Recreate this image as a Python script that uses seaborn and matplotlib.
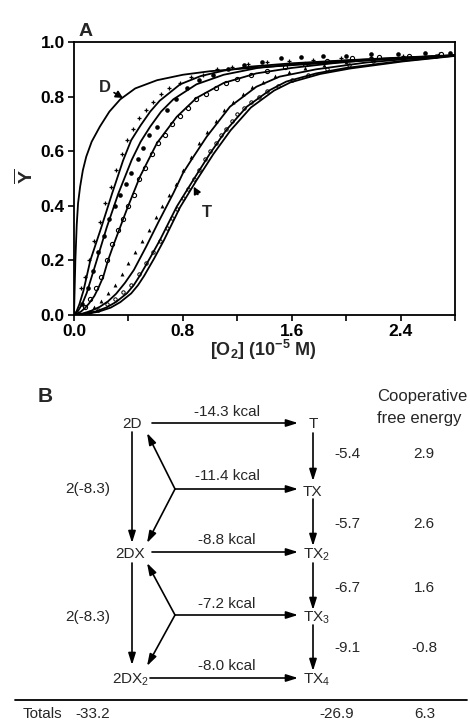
import matplotlib
matplotlib.use("Agg")
import matplotlib.pyplot as plt
import seaborn as sns

# ---------------- Panel A data ----------------
d_x = [0.0, 0.005, 0.01, 0.02, 0.03, 0.045, 0.065, 0.09, 0.13, 0.19, 0.26, 0.34, 0.45, 0.61, 0.80, 1.00, 1.30, 1.60, 2.00, 2.40, 2.80]
d_y = [0.0, 0.10, 0.20, 0.33, 0.41, 0.47, 0.53, 0.58, 0.635, 0.69, 0.745, 0.79, 0.83, 0.86, 0.88, 0.893, 0.905, 0.915, 0.928, 0.94, 0.95]

c1_x = [0.0, 0.02, 0.04, 0.07, 0.095, 0.12, 0.16, 0.20, 0.28, 0.36, 0.42, 0.49, 0.56, 0.63, 0.78, 0.93, 1.10, 1.30, 1.60, 2.00, 2.40, 2.80]
c1_y = [0.0, 0.015, 0.04, 0.09, 0.145, 0.20, 0.26, 0.32, 0.445, 0.565, 0.64, 0.695, 0.745, 0.785, 0.845, 0.875, 0.895, 0.91, 0.922, 0.933, 0.943, 0.952]

c2_x = [0.0, 0.03, 0.06, 0.093, 0.13, 0.167, 0.24, 0.326, 0.424, 0.49, 0.56, 0.64, 0.73, 0.90, 1.10, 1.35, 1.65, 2.00, 2.40, 2.80]
c2_y = [0.0, 0.015, 0.04, 0.08, 0.14, 0.20, 0.32, 0.445, 0.568, 0.635, 0.69, 0.745, 0.79, 0.845, 0.88, 0.905, 0.92, 0.932, 0.942, 0.951]

c3_x = [0.0, 0.05, 0.08, 0.11, 0.15, 0.18, 0.215, 0.25, 0.289, 0.387, 0.485, 0.61, 0.755, 0.90, 1.10, 1.34, 1.60, 1.90, 2.20, 2.50, 2.80]
c3_y = [0.0, 0.012, 0.025, 0.042, 0.07, 0.10, 0.14, 0.20, 0.255, 0.385, 0.507, 0.63, 0.726, 0.795, 0.85, 0.885, 0.905, 0.922, 0.935, 0.944, 0.951]

c4_x = [0.0, 0.06, 0.12, 0.19, 0.25, 0.31, 0.375, 0.44, 0.53, 0.62, 0.73, 0.80, 0.865, 0.975, 1.146, 1.34, 1.51, 1.78, 2.15, 2.50, 2.80]
c4_y = [0.0, 0.005, 0.014, 0.03, 0.05, 0.078, 0.118, 0.165, 0.25, 0.34, 0.446, 0.519, 0.57, 0.653, 0.763, 0.836, 0.873, 0.90, 0.925, 0.94, 0.951]

t_x = [0.0, 0.08, 0.16, 0.24, 0.31, 0.39, 0.44, 0.485, 0.56, 0.632, 0.755, 0.877, 1.00, 1.12, 1.27, 1.44, 1.56, 1.78, 2.00, 2.40, 2.80]
t_y = [0.0, 0.005, 0.013, 0.028, 0.048, 0.08, 0.11, 0.145, 0.21, 0.275, 0.397, 0.495, 0.592, 0.678, 0.763, 0.824, 0.855, 0.885, 0.905, 0.93, 0.95]

t2_x = [0.0, 0.10, 0.18, 0.27, 0.34, 0.42, 0.47, 0.515, 0.59, 0.66, 0.78, 0.90, 1.025, 1.15, 1.30, 1.47, 1.59, 1.81, 2.03, 2.42, 2.80]
t2_y = [0.0, 0.005, 0.012, 0.027, 0.047, 0.079, 0.109, 0.143, 0.208, 0.273, 0.395, 0.493, 0.59, 0.676, 0.76, 0.822, 0.852, 0.883, 0.903, 0.929, 0.949]

s1_x = [0.05, 0.08, 0.11, 0.15, 0.19, 0.23, 0.27, 0.31, 0.35, 0.39, 0.43, 0.48, 0.53, 0.58, 0.64, 0.70, 0.78, 0.86, 0.95, 1.05, 1.16, 1.28, 1.42, 1.58, 1.76, 1.96, 2.18, 2.42, 2.68]
s1_y = [0.10, 0.14, 0.20, 0.27, 0.34, 0.41, 0.47, 0.53, 0.59, 0.64, 0.68, 0.72, 0.75, 0.78, 0.81, 0.83, 0.85, 0.87, 0.88, 0.90, 0.91, 0.92, 0.925, 0.93, 0.935, 0.94, 0.945, 0.95, 0.955]

s2_x = [0.06, 0.10, 0.14, 0.18, 0.22, 0.26, 0.30, 0.34, 0.38, 0.42, 0.47, 0.51, 0.55, 0.61, 0.68, 0.75, 0.83, 0.92, 1.02, 1.13, 1.25, 1.38, 1.52, 1.67, 1.83, 2.00, 2.18, 2.38, 2.58, 2.76]
s2_y = [0.04, 0.10, 0.16, 0.23, 0.29, 0.35, 0.40, 0.44, 0.48, 0.52, 0.57, 0.61, 0.66, 0.69, 0.75, 0.79, 0.83, 0.86, 0.88, 0.90, 0.915, 0.925, 0.94, 0.945, 0.95, 0.95, 0.955, 0.955, 0.96, 0.96]

s3_x = [0.08, 0.12, 0.16, 0.20, 0.24, 0.28, 0.32, 0.36, 0.40, 0.44, 0.48, 0.52, 0.57, 0.62, 0.67, 0.72, 0.78, 0.84, 0.90, 0.97, 1.04, 1.12, 1.20, 1.30, 1.42, 1.55, 1.70, 1.86, 2.04, 2.24, 2.46, 2.70]
s3_y = [0.03, 0.06, 0.10, 0.14, 0.20, 0.26, 0.31, 0.35, 0.40, 0.44, 0.50, 0.54, 0.59, 0.63, 0.66, 0.70, 0.73, 0.76, 0.79, 0.81, 0.83, 0.85, 0.865, 0.88, 0.895, 0.91, 0.92, 0.93, 0.94, 0.945, 0.95, 0.955]

s4_x = [0.10, 0.15, 0.20, 0.25, 0.30, 0.35, 0.40, 0.45, 0.50, 0.55, 0.60, 0.65, 0.70, 0.75, 0.80, 0.86, 0.92, 0.98, 1.04, 1.10, 1.17, 1.24, 1.31, 1.39, 1.48, 1.58, 1.70, 1.84, 2.00, 2.20]
s4_y = [0.01, 0.03, 0.05, 0.08, 0.11, 0.15, 0.19, 0.23, 0.27, 0.31, 0.36, 0.40, 0.44, 0.48, 0.53, 0.58, 0.63, 0.67, 0.71, 0.75, 0.78, 0.81, 0.835, 0.855, 0.875, 0.89, 0.905, 0.915, 0.925, 0.935]

ts_x = [0.12, 0.18, 0.24, 0.30, 0.36, 0.42, 0.48, 0.53, 0.58, 0.63, 0.68, 0.72, 0.76, 0.80, 0.84, 0.88, 0.92, 0.96, 1.00, 1.04, 1.08, 1.12, 1.16, 1.20, 1.25, 1.30, 1.36, 1.42, 1.50, 1.60, 1.72, 1.86, 2.02, 2.20, 2.42, 2.66]
ts_y = [0.01, 0.02, 0.04, 0.06, 0.085, 0.11, 0.15, 0.19, 0.23, 0.27, 0.32, 0.355, 0.39, 0.43, 0.46, 0.50, 0.53, 0.57, 0.60, 0.63, 0.66, 0.68, 0.71, 0.735, 0.76, 0.78, 0.80, 0.82, 0.84, 0.86, 0.88, 0.90, 0.915, 0.93, 0.94, 0.95]

x_ticks = [0.0, 0.4, 0.8, 1.2, 1.6, 2.0, 2.4, 2.8]
x_tick_labels = ["0.0", "", "0.8", "", "1.6", "", "2.4", ""]
y_ticks = [0.0, 0.2, 0.4, 0.6, 0.8, 1.0]
y_tick_labels = ["0.0", "0.2", "0.4", "0.6", "0.8", "1.0"]

# ---------------- Panel B data ----------------
kcal_labels = ["-14.3 kcal", "-11.4 kcal", "-8.8 kcal", "-7.2 kcal", "-8.0 kcal"]
step_T = ["-5.4", "-5.7", "-6.7", "-9.1"]
coop = ["2.9", "2.6", "1.6", "-0.8"]
d_steps = ["2(-8.3)", "2(-8.3)"]
totals = ["-33.2", "-26.9", "6.3"]

sns.set_style("ticks")
plt.rcParams["font.family"] = ["Liberation Sans", "DejaVu Sans"]

fig = plt.figure(figsize=(4.7, 7.24), dpi=100)
bg = fig.add_axes([0, 0, 1, 1], zorder=0)
bg.set_xlim(0, 470)
bg.set_ylim(724, 0)
bg.axis("off")

ax = fig.add_axes([74 / 470, 1 - 315 / 724, 381 / 470, 273 / 724], zorder=1)

lw = 1.3
for xs, ys in [(d_x, d_y), (c1_x, c1_y), (c2_x, c2_y), (c3_x, c3_y), (c4_x, c4_y), (t_x, t_y), (t2_x, t2_y)]:
    sns.lineplot(x=xs, y=ys, ax=ax, color="black", lw=lw, estimator=None, sort=True)

sns.scatterplot(x=s1_x, y=s1_y, ax=ax, marker="+", color="black", s=10, linewidth=0.9)
sns.scatterplot(x=s2_x, y=s2_y, ax=ax, marker="o", color="black", s=11, linewidth=0)
sns.scatterplot(x=s3_x, y=s3_y, ax=ax, marker="o", facecolor="white", edgecolor="black", s=9, linewidth=0.8)
sns.scatterplot(x=s4_x, y=s4_y, ax=ax, marker="^", color="black", s=8, linewidth=0)
sns.scatterplot(x=ts_x, y=ts_y, ax=ax, marker="o", facecolor="white", edgecolor="black", s=6, linewidth=0.7)

ax.set_xlim(0, 2.8)
ax.set_ylim(0, 1.0)
ax.set_xticks(x_ticks)
ax.set_xticklabels(x_tick_labels)
ax.set_yticks(y_ticks)
ax.set_yticklabels(y_tick_labels)
ax.tick_params(direction="out", length=4, width=1.2, labelsize=12.5, pad=2.5, colors="black")
for lbl in ax.get_xticklabels() + ax.get_yticklabels():
    lbl.set_fontweight("bold")
for sp in ax.spines.values():
    sp.set_linewidth(1.3)
    sp.set_color("black")
    sp.set_visible(True)
ax.set_xlabel("")
ax.set_ylabel("")

# axis labels
bg.text(263, 356, r"[O$_\mathregular{2}$] (10$^{\mathregular{-5}}$ M)", ha="center", va="baseline",
        fontsize=13, fontweight="bold")
bg.text(25, 176, r"$\overline{\mathregular{Y}}$", ha="center", va="center", rotation=90,
        fontsize=14, fontweight="bold")
bg.text(86, 31, "A", ha="center", va="center", fontsize=14, fontweight="bold")

# D and T annotations
ax.annotate("D", xy=(0.36, 0.795), xytext=(0.27, 0.835), fontsize=12, fontweight="bold",
            ha="right", va="center",
            arrowprops=dict(arrowstyle="-|>,head_length=0.35,head_width=0.18", color="black", lw=1.2,
                            shrinkA=0, shrinkB=0))
ax.annotate("T", xy=(0.88, 0.47), xytext=(0.98, 0.375), fontsize=12, fontweight="bold",
            ha="center", va="center",
            arrowprops=dict(arrowstyle="-|>,head_length=0.35,head_width=0.18", color="black", lw=1.2,
                            shrinkA=6, shrinkB=0))

# ---------------- Panel B diagram ----------------
fs = 11
off = 5.5


def t(x, y, s, ha="center", size=fs, weight="normal"):
    bg.text(x, y + off, s, ha=ha, va="baseline", fontsize=size, fontweight=weight)


def arrow(x0, y0, x1, y1):
    bg.annotate("", xy=(x1, y1), xytext=(x0, y0),
                arrowprops=dict(arrowstyle="-|>,head_length=0.7,head_width=0.22", color="black",
                                lw=1.2, shrinkA=0, shrinkB=0))


bg.text(45, 397, "B", ha="center", va="center", fontsize=15, fontweight="bold")
bg.text(377, 397, "Cooperative", ha="left", va="center", fontsize=12)
bg.text(377, 418, "free energy", ha="left", va="center", fontsize=12)

# left column species
t(132, 423, "2D")
t(130, 553, "2DX")
t(112, 678, r"2DX$_\mathregular{2}$", ha="left")
# right column species
t(313, 423, "T")
t(303, 490, "TX", ha="left")
t(303, 553, r"TX$_\mathregular{2}$", ha="left")
t(303, 616, r"TX$_\mathregular{3}$", ha="left")
t(303, 678, r"TX$_\mathregular{4}$", ha="left")

# kcal labels
for y, s in zip([410, 475, 538, 603, 665], kcal_labels):
    t(227, y, s)
# T steps and cooperative energies
for y, s in zip([453, 522, 587, 647], step_T):
    t(347, y, s)
for y, s in zip([453, 522, 587, 647], coop):
    t(424, y, s)
for y, s in zip([488, 616], d_steps):
    t(88, y, s)

# arrows
arrow(152, 423, 298, 423)
arrow(313, 433, 313, 481)
arrow(175, 489, 298, 489)
arrow(175, 489, 147, 433)
arrow(175, 489, 147, 543)
arrow(132, 432, 132, 543)
arrow(313, 499, 313, 546)
arrow(152, 552, 298, 552)
arrow(132, 563, 132, 665)
arrow(313, 563, 313, 610)
arrow(175, 615, 147, 563)
arrow(175, 615, 147, 666)
arrow(175, 615, 298, 615)
arrow(313, 625, 313, 671)
arrow(150, 678, 298, 678)

bg.plot([15, 467], [700, 700], color="black", lw=1.3)
t(42, 713, "Totals")
t(93, 713, totals[0])
t(337, 713, totals[1])
t(425, 713, totals[2])

fig.savefig("out.png", dpi=100)
